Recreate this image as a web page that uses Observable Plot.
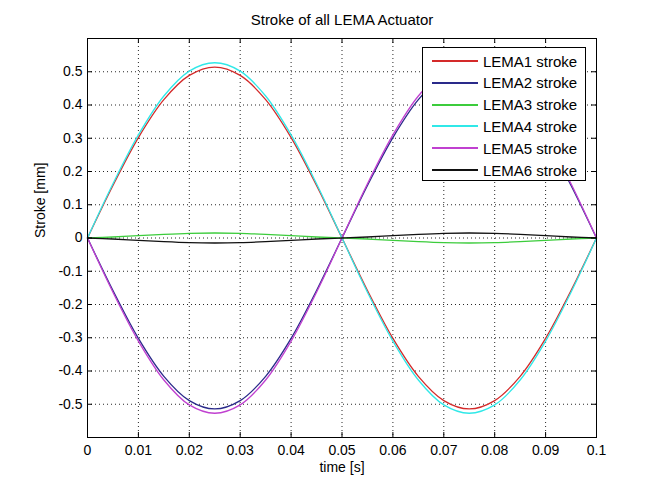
<!DOCTYPE html>
<html><head><meta charset="utf-8">
<script src="https://cdn.jsdelivr.net/npm/d3@7"></script>
<script src="https://cdn.jsdelivr.net/npm/@observablehq/plot@0.6"></script>
<style>
body{margin:0;background:#fff;}
#wrap{position:relative;width:658px;height:492px;font-family:"Liberation Sans",Arial,sans-serif;background:#fff;}
#legend{position:absolute;left:422px;top:47px;width:164px;height:134px;border:1px solid #000;background:#fff;box-sizing:border-box;}
.row{position:absolute;left:0;height:20px;display:flex;align-items:center;font-size:15px;color:#000;white-space:nowrap;}
.sw{width:46px;height:0;border-top:2px solid;margin-left:9px;margin-right:5px;}
</style></head><body><div id="wrap"></div>
<script>
const title = "Stroke of all LEMA Actuator";
const xLabel = "time [s]";
const yLabel = "Stroke [mm]";
const names = ["LEMA1 stroke","LEMA2 stroke","LEMA3 stroke","LEMA4 stroke","LEMA5 stroke","LEMA6 stroke"];
const colors = ["#d42a2a","#2a2a8a","#3ccc3c","#30e8e8","#c040d0","#111111"];
const xTicks = [0,0.01,0.02,0.03,0.04,0.05,0.06,0.07,0.08,0.09,0.1];
const yTicks = [-0.5,-0.4,-0.3,-0.2,-0.1,0,0.1,0.2,0.3,0.4,0.5];
const yGrid = [-0.6,-0.5,-0.4,-0.3,-0.2,-0.1,0,0.1,0.2,0.3,0.4,0.5,0.6];

const time  = [0,0.005,0.01,0.015,0.02,0.025,0.03,0.035,0.04,0.045,0.05,0.055,0.06,0.065,0.07,0.075,0.08,0.085,0.09,0.095,0.1];
const lema1 = [0,0.158,0.302,0.416,0.489,0.514,0.489,0.416,0.302,0.158,0,-0.158,-0.302,-0.416,-0.489,-0.514,-0.489,-0.416,-0.302,-0.158,0];
const lema2 = [0,-0.158,-0.302,-0.416,-0.489,-0.514,-0.489,-0.416,-0.302,-0.158,0,0.158,0.302,0.416,0.489,0.514,0.489,0.416,0.302,0.158,0];
const lema3 = [0,0.003,0.007,0.011,0.014,0.015,0.014,0.011,0.007,0.003,0,-0.003,-0.007,-0.011,-0.014,-0.015,-0.014,-0.011,-0.007,-0.003,0];
const lema4 = [0,0.163,0.310,0.427,0.502,0.527,0.502,0.427,0.310,0.163,0,-0.163,-0.310,-0.427,-0.502,-0.527,-0.502,-0.427,-0.310,-0.163,0];
const lema5 = [0,-0.163,-0.310,-0.427,-0.502,-0.527,-0.502,-0.427,-0.310,-0.163,0,0.163,0.310,0.427,0.502,0.527,0.502,0.427,0.310,0.163,0];
const lema6 = [0,-0.003,-0.007,-0.011,-0.014,-0.015,-0.014,-0.011,-0.007,-0.003,0,0.003,0.007,0.011,0.014,0.015,0.014,0.011,0.007,0.003,0];
const seriesValues = [lema1,lema2,lema3,lema4,lema5,lema6];

const data = names.flatMap((n,i)=> time.map((t,j)=>({t, v: seriesValues[i][j], s: n})));

const W=658,H=492,mL=87,mR=62,mT=38,mB=55;
const fw=W-mL-mR, fh=H-mT-mB;
const fmt = d => String(d);

const chart = Plot.plot({
  width:W,height:H,marginLeft:mL,marginRight:mR,marginTop:mT,marginBottom:mB,
  style:{fontFamily:'"Liberation Sans",Arial,sans-serif',fontSize:"14px",color:"#000",background:"#fff"},
  x:{domain:[0,0.1]},
  y:{domain:[-0.6,0.6]},
  color:{domain:names,range:colors},
  marks:[
    Plot.gridX(xTicks,{stroke:"#000",strokeOpacity:0.85,strokeDasharray:"1,3"}),
    Plot.gridY(yGrid,{stroke:"#000",strokeOpacity:0.85,strokeDasharray:"1,3"}),
    Plot.line(data,{x:"t",y:"v",z:"s",stroke:"s",curve:"catmull-rom",strokeWidth:1.3}),
    Plot.ruleX(xTicks,{insetTop:fh-5,stroke:"#000"}),
    Plot.ruleX(xTicks,{insetBottom:fh-5,stroke:"#000"}),
    Plot.ruleY(yTicks,{insetRight:fw-5,stroke:"#000"}),
    Plot.ruleY(yTicks,{insetLeft:fw-5,stroke:"#000"}),
    Plot.axisX(xTicks,{tickSize:0,tickPadding:8,tickFormat:fmt,label:null,fontSize:14}),
    Plot.axisY(yTicks,{tickSize:0,tickPadding:5,tickFormat:fmt,label:null,fontSize:14}),
    Plot.frame({stroke:"#000"}),
    Plot.text([title],{frameAnchor:"top",lineAnchor:"middle",dy:-18,fontSize:15}),
    Plot.text([xLabel],{frameAnchor:"bottom",lineAnchor:"middle",dy:30,fontSize:14}),
    Plot.text([yLabel],{frameAnchor:"left",lineAnchor:"middle",dx:-47,rotate:-90,fontSize:14})
  ]
});
const wrap = document.getElementById("wrap");
wrap.appendChild(chart);

const legend = document.createElement("div");
legend.id = "legend";
names.forEach((n,i)=>{
  const row = document.createElement("div");
  row.className = "row";
  row.style.top = (3 + i*21.8) + "px";
  const sw = document.createElement("span");
  sw.className = "sw";
  sw.style.borderTopColor = colors[i];
  const tx = document.createElement("span");
  tx.textContent = n;
  row.appendChild(sw); row.appendChild(tx);
  legend.appendChild(row);
});
wrap.appendChild(legend);
</script></body></html>
